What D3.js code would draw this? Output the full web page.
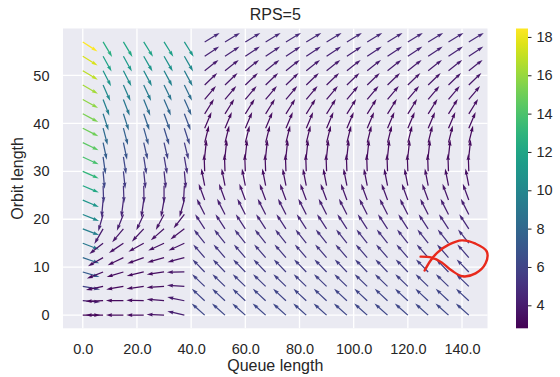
<!DOCTYPE html>
<html>
<head>
<meta charset="utf-8">
<script src="https://cdn.jsdelivr.net/npm/d3@7"></script>
<style>
  html, body { margin: 0; padding: 0; background: #fff; }
  svg { display: block; font-family: "Liberation Sans", Arial, sans-serif; }
</style>
</head>
<body>
<svg id="chart" width="560" height="377"></svg>
<script>
// grid of the quiver plot
const queueLen = [0, 7.5, 15, 22.5, 30, 37.5, 45, 52.5, 60, 67.5, 75, 82.5, 90, 97.5, 105, 112.5, 120, 127.5, 135, 142.5];
const orbitLen = [0, 3, 6, 9, 12, 15, 18, 21, 24, 27, 30, 33, 36, 39, 42, 45, 48, 51, 54, 57];

// arrow direction (degrees, counter-clockwise from +x) for queue 0..37.5, one row per orbit value
const leftAngle = [
  [0, 180, 180, 180, 178, 167],
  [-4, -178, 179, 178, 175, 168],
  [-10, -168, -170, -172, -176, 176],
  [-17, -158, -163, -167, -172, -179],
  [-19, -150, -154, -160, -164, -165],
  [-21, -142, -146, -151, -155, -155],
  [-21, -120, -130, -133, -139, -143],
  [-22, -106, -112, -115, -118, -128],
  [-23, -95, -97, -98, -100, -106],
  [-23, -88, -88, -89, -90, -93],
  [-24, -85, -84, -84, -84, -85],
  [-25, -82, -81, -81, -80, -80],
  [-26, -78, -78, -77, -77, -76],
  [-27, -75, -75, -74, -73, -72],
  [-28, -72, -72, -71, -70, -69],
  [-29, -69, -69, -68, -67, -66],
  [-30, -66, -66, -65, -64, -64],
  [-31, -63, -63, -62, -62, -62],
  [-32, -61, -61, -60, -60, -60],
  [-33, -59, -59, -58, -58, -58]
];

// speed (colour value) for queue 0..37.5
const leftSpeed = [
  [3.1, 3.1, 3.2, 3.3, 3.6, 4.2],
  [4.1, 3.1, 3.2, 3.3, 3.5, 4.0],
  [5.9, 3.2, 3.2, 3.3, 3.4, 3.8],
  [7.3, 3.3, 3.3, 3.3, 3.4, 3.7],
  [8.1, 3.5, 3.4, 3.4, 3.4, 3.6],
  [9.1, 3.7, 3.6, 3.5, 3.5, 3.6],
  [9.5, 4.0, 3.8, 3.7, 3.6, 3.6],
  [10.2, 4.4, 4.1, 3.9, 3.7, 3.6],
  [11.1, 4.9, 4.5, 4.2, 3.9, 3.7],
  [12.2, 5.5, 5.0, 4.6, 4.3, 4.0],
  [13.1, 6.1, 5.6, 5.1, 4.7, 4.4],
  [13.9, 6.8, 6.2, 5.7, 5.3, 4.9],
  [14.5, 7.5, 6.9, 6.4, 5.9, 5.5],
  [15.0, 8.2, 7.6, 7.1, 6.6, 6.1],
  [15.3, 8.9, 8.3, 7.8, 7.3, 6.8],
  [15.8, 9.6, 9.0, 8.5, 8.1, 7.6],
  [16.3, 10.3, 9.7, 9.3, 8.9, 8.4],
  [16.9, 11.0, 10.5, 10.1, 9.8, 9.3],
  [17.5, 11.8, 11.3, 11.0, 10.7, 10.2],
  [18.4, 12.6, 12.2, 11.9, 11.6, 11.2]
];

// queue 45..142.5: every column reads the same for a given orbit value
const rightAngle = [138, 137, 136, 134, 131, 128, 123, 117, 110, 101, 92, 84, 76, 67, 58, 50, 44, 38, 34, 31];
const rightSpeed = [6.2, 6.0, 5.8, 5.6, 5.3, 5.0, 4.6, 4.2, 3.8, 3.5, 3.3, 3.2, 3.2, 3.3, 3.4, 3.6, 3.8, 4.0, 4.3, 4.6];

const xTicks = [0, 20, 40, 60, 80, 100, 120, 140];
const yTicks = [0, 10, 20, 30, 40, 50];
const cbTicks = [4, 6, 8, 10, 12, 14, 16, 18];
const cbRange = [2.8, 18.44];

// hand-drawn red loop on top of the plot, in data units
const scribble = [
  [126.2, 9.3], [128.4, 11.4], [131.0, 13.1], [135.1, 14.7], [139.9, 15.6],
  [145.0, 14.9], [149.1, 13.3], [148.7, 10.8], [145.0, 8.7], [140.2, 8.1],
  [136.2, 9.3], [132.5, 11.0], [128.8, 12.0], [124.7, 12.2]
];

const svg = d3.select('#chart');
const plot = { left: 63, right: 487.5, top: 28.5, bottom: 328.3 };
const textColor = '#262626';

const x = d3.scaleLinear().domain([-7.3, 149.4]).range([plot.left, plot.right]);
const y = d3.scaleLinear().domain([-2.75, 59.8]).range([plot.bottom, plot.top]);
const color = d3.scaleSequential(d3.interpolateViridis).domain(cbRange);

// build vectors
const field = [];
orbitLen.forEach((o, i) => {
  queueLen.forEach((q, j) => {
    const left = j < leftAngle[i].length;
    field.push({
      q, o,
      angle: left ? leftAngle[i][j] : rightAngle[i],
      speed: left ? leftSpeed[i][j] : rightSpeed[i]
    });
  });
});

// background and grid
svg.append('rect')
  .attr('x', plot.left).attr('y', plot.top)
  .attr('width', plot.right - plot.left).attr('height', plot.bottom - plot.top)
  .attr('fill', '#eaeaf2');

const grid = svg.append('g').attr('stroke', '#fff').attr('stroke-width', 1.3);
grid.selectAll('line.gx').data(xTicks).join('line')
  .attr('class', 'gx')
  .attr('x1', d => x(d)).attr('x2', d => x(d))
  .attr('y1', plot.top).attr('y2', plot.bottom);
grid.selectAll('line.gy').data(yTicks).join('line')
  .attr('class', 'gy')
  .attr('x1', plot.left).attr('x2', plot.right)
  .attr('y1', d => y(d)).attr('y2', d => y(d));

// axes (no spines, no tick marks - just labels)
const xAxis = svg.append('g')
  .attr('transform', `translate(0,${plot.bottom})`)
  .call(d3.axisBottom(x).tickValues(xTicks).tickFormat(d3.format('.1f')).tickSize(0).tickPadding(15));
const yAxis = svg.append('g')
  .attr('transform', `translate(${plot.left},0)`)
  .call(d3.axisLeft(y).tickValues(yTicks).tickFormat(d3.format('d')).tickSize(0).tickPadding(13.5));
[xAxis, yAxis].forEach(ax => {
  ax.select('.domain').remove();
  ax.selectAll('text')
    .attr('fill', textColor)
    .style('font-size', '14.5px')
    .style('font-family', '"Liberation Sans", Arial, sans-serif');
});

// arrows (matplotlib quiver style, tail at the grid point)
const L = 17.5, w = 1.25, hw = 3 * w, hl = 5 * w, hal = 4.5 * w;
const arrowShape = [
  [0, -w / 2], [L - hal, -w / 2], [L - hl, -hw / 2], [L, 0],
  [L - hl, hw / 2], [L - hal, w / 2], [0, w / 2]
].map(p => p.join(',')).join(' ');

svg.append('g')
  .selectAll('polygon')
  .data(field)
  .join('polygon')
  .attr('points', arrowShape)
  .attr('transform', d => `translate(${x(d.q)},${y(d.o)}) rotate(${-d.angle})`)
  .attr('fill', d => color(d.speed));

// title and axis labels
svg.append('text')
  .attr('x', (plot.left + plot.right) / 2).attr('y', 20)
  .attr('text-anchor', 'middle')
  .attr('fill', textColor)
  .style('font-size', '16px')
  .text('RPS=5');

svg.append('text')
  .attr('x', (plot.left + plot.right) / 2).attr('y', 371)
  .attr('text-anchor', 'middle')
  .attr('fill', textColor)
  .style('font-size', '16px')
  .text('Queue length');

svg.append('text')
  .attr('transform', `translate(23,${(plot.top + plot.bottom) / 2}) rotate(-90)`)
  .attr('text-anchor', 'middle')
  .attr('fill', textColor)
  .style('font-size', '16px')
  .text('Orbit length');

// colorbar
const cb = { x: 516, width: 12 };
const cbScale = d3.scaleLinear().domain(cbRange).range([plot.bottom, plot.top]);
const grad = svg.append('defs').append('linearGradient')
  .attr('id', 'viridis')
  .attr('x1', 0).attr('y1', 1).attr('x2', 0).attr('y2', 0);
grad.selectAll('stop')
  .data(d3.range(0, 1.0001, 0.05))
  .join('stop')
  .attr('offset', d => d)
  .attr('stop-color', d => d3.interpolateViridis(d));

svg.append('rect')
  .attr('x', cb.x).attr('y', plot.top)
  .attr('width', cb.width).attr('height', plot.bottom - plot.top)
  .attr('fill', 'url(#viridis)');

const cbAxis = svg.append('g')
  .attr('transform', `translate(${cb.x + cb.width},0)`)
  .call(d3.axisRight(cbScale).tickValues(cbTicks).tickFormat(d3.format('d')).tickSize(3.5).tickPadding(5));
cbAxis.select('.domain').remove();
cbAxis.selectAll('line').attr('stroke', textColor).attr('stroke-width', 1);
cbAxis.selectAll('text')
  .attr('fill', textColor)
  .style('font-size', '14.5px')
  .style('font-family', '"Liberation Sans", Arial, sans-serif');

// red annotation
svg.append('path')
  .datum(scribble)
  .attr('d', d3.line().x(d => x(d[0])).y(d => y(d[1])).curve(d3.curveCatmullRom))
  .attr('fill', 'none')
  .attr('stroke', '#e8291c')
  .attr('stroke-width', 2.4)
  .attr('stroke-linecap', 'round')
  .attr('stroke-linejoin', 'round');
</script>
</body>
</html>
